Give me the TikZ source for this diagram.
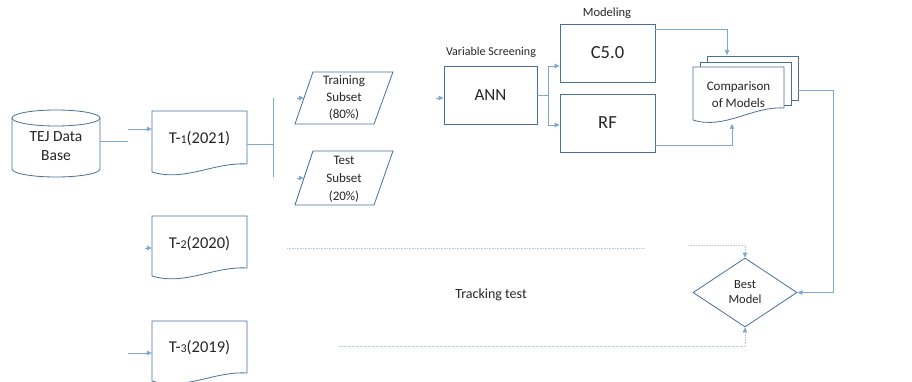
\documentclass[tikz,border=0pt]{standalone}
\usepackage{fontspec}
\setmainfont{Carlito}
\usetikzlibrary{arrows.meta,shapes.geometric,calc}
\definecolor{boxc}{HTML}{4A6F99}
\definecolor{linec}{HTML}{7EA6D2}
\definecolor{txt}{HTML}{262626}
\newcommand\docpath[5]{%
  \filldraw[shp] (#1,#2) -- (#3,#2) -- (#3,#5)
    .. controls ({#1+0.65*(#3-#1)},{#5-2}) and ({#1+0.35*(#3-#1)},{#4+10}) .. (#1,#4) -- cycle;}
\begin{document}
\begin{tikzpicture}[x=1pt,y=-1pt,
  shp/.style={draw=boxc,line width=0.8pt,fill=white},
  conn/.style={draw=linec,line width=0.6pt},
  arr/.style={conn,-{Triangle[length=5pt,width=4.5pt]}},
  faint/.style={draw=linec!60,line width=0.6pt,densely dotted},
  farr/.style={faint,-{Triangle[length=5pt,width=4.5pt,fill=linec,color=linec]}},
  lbl/.style={text=txt,inner sep=0pt,align=center},
  holder/.style={lbl,draw=none,minimum width=#1},
  big/.style={font=\fontsize{17}{20}\selectfont},
  bigger/.style={font=\fontsize{18.5}{20}\selectfont},
  mid/.style={font=\fontsize{15.5}{18.5}\selectfont},
  tdoc/.style={font=\fontsize{16.5}{19}\selectfont},
  sml/.style={font=\fontsize{13}{17}\selectfont},
  tiny/.style={font=\fontsize{12}{14}\selectfont}
]
\useasboundingbox (0,0) rectangle (912,382);

% cylinder
\filldraw[shp] (12,118) -- (12,169) arc[start angle=180,end angle=0,x radius=44,y radius=8] -- (100,118);
\draw[shp] (56,118) ellipse [x radius=44, y radius=8];
\node[holder=88,minimum height=67,mid] (tej) at (56,146) {TEJ Data\\Base};

% documents
\docpath{152}{111}{247}{172}{164}
\docpath{152}{216}{247}{276}{268}
\docpath{152}{321}{247}{381}{373}
\node[holder=95,minimum height=61,tdoc] (t1) at (199.5,139) {T-{\fontsize{12}{12}\selectfont 1}(2021)};
\node[holder=95,minimum height=60,tdoc] (t2) at (199.5,244) {T-{\fontsize{12}{12}\selectfont 2}(2020)};
\node[holder=95,minimum height=60,tdoc] (t3) at (199.5,348) {T-{\fontsize{12}{12}\selectfont 3}(2019)};

% parallelograms
\filldraw[shp] (313,72) -- (393,72) -- (374,124) -- (295,124) -- cycle;
\filldraw[shp] (313,151) -- (393,151) -- (374,205) -- (295,205) -- cycle;
\node[holder=80,minimum height=52,sml] (train) at (344,98) {Training\\Subset\\(80\%)};
\node[holder=80,minimum height=54,sml,font=\fontsize{13}{18}\selectfont] (test) at (344,179) {Test\\Subset\\(20\%)};

% boxes
\node[shp,lbl,big,minimum width=93,minimum height=58] (ann) at (490.5,95) {ANN};
\node[shp,lbl,bigger,minimum width=95,minimum height=58] (c50) at (607.5,53) {C5.0};
\node[shp,lbl,bigger,minimum width=95,minimum height=58] (rf) at (607.5,123) {RF};

% multi-document
\filldraw[shp] (707,67) -- (707,56) -- (798,56) -- (798,100) -- (791,100);
\filldraw[shp] (700,67) -- (700,62) -- (791,62) -- (791,105) -- (784,105);
\docpath{693}{67}{784}{120}{108}
\node[holder=91,minimum height=53,sml] (cmp) at (738.5,95) {Comparison\\of Models};

% diamond
\node[shp,lbl,shape=diamond,minimum width=104,minimum height=69,inner sep=1pt,font=\fontsize{12.5}{15}\selectfont] (best) at (745,292.5) {Best\\Model};

% labels
\node[lbl,tiny] (vs) at (491,52) {Variable Screening};
\node[lbl,font=\fontsize{12.5}{14}\selectfont] (mod) at (607,13) {Modeling};
\node[lbl,font=\fontsize{14}{16}\selectfont] (tt) at (491,295) {Tracking test};

% connectors
\coordinate (j1) at (128,141);
\coordinate (j2) at (128,129);
\draw[conn] (tej.east |- j1) -- (j1);
\draw[arr] (j2) -- (j2 -| t1.west);

\coordinate (b0) at (273,144);
\coordinate (b1) at (273,98);
\coordinate (b2) at (273,177);
\draw[conn] (t1.east |- b0) -- (b0);
\draw[conn] (b1) -- (b2);
\coordinate (p1) at (297,98);
\coordinate (p2) at (297,178);
\draw[arr] (p1) -- (p1 -| train.west);
\draw[arr] (p2) -- (p2 -| test.west);

\coordinate (q1) at (436,98);
\draw[arr] (q1) -- (q1 -| ann.west);

\coordinate (m0) at (548,95);
\coordinate (m1) at (548,66);
\coordinate (m2) at (548,125);
\draw[conn] (ann.east) -- (m0);
\draw[arr] (m0) -- (m1) -- (m1 -| c50.west);
\draw[arr] (m0) -- (m2) -- (m2 -| rf.west);

\coordinate (k1) at (727,29);
\coordinate (k2) at (727,55);
\draw[arr] (k1 -| c50.east) -- (k1) -- (k2);
\coordinate (r1) at (732,145);
\coordinate (r2) at (732,124);
\draw[arr] (r1 -| rf.east) -- (r1) -- (r2);

\coordinate (g1) at (798,90);
\coordinate (g2) at (833,90);
\coordinate (g3) at (833,292.5);
\draw[arr] (g1) -- (g2) -- (g3) -- (best.east);

\coordinate (d1) at (287,248);
\coordinate (d2) at (644,248);
\coordinate (d3) at (688,245);
\draw[faint] (d1) -- (d2);
\draw[farr] (d3) -| (best.north);
\coordinate (e1) at (339,346);
\draw[farr] (e1) -| (best.south);

\coordinate (u1) at (145,248);
\draw[arr] (u1) -- (u1 -| t2.west);
\coordinate (u2) at (128,353);
\draw[arr] (u2) -- (u2 -| t3.west);
\end{tikzpicture}
\end{document}
